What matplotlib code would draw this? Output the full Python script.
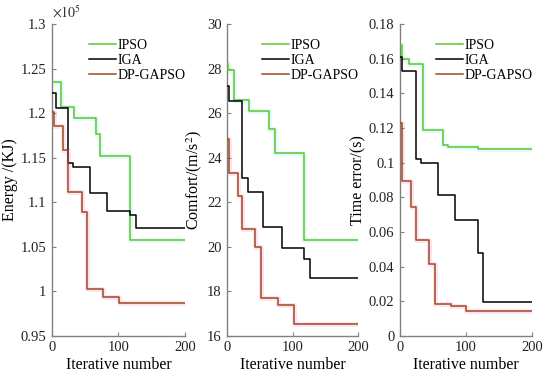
import matplotlib
matplotlib.use("Agg")
import matplotlib.pyplot as plt
from matplotlib.ticker import FuncFormatter, MultipleLocator

plt.rcParams['font.family'] = ['Liberation Serif', 'DejaVu Serif']
plt.rcParams['mathtext.fontset'] = 'stix'

series_names = ["IPSO", "IGA", "DP-GAPSO"]
colors = ["#62c52e", "#000000", "#a04820"]

# Energy (KJ)
energy_x = {
    "IPSO": [0, 14, 33, 66, 72, 117, 200],
    "IGA": [0, 6, 24, 31, 57, 83, 118, 126, 200],
    "DP-GAPSO": [0, 3, 16, 24, 45, 53, 77, 101, 200],
}
energy_y = {
    "IPSO": [123500, 120700, 119500, 117600, 115200, 105800, 105800],
    "IGA": [122300, 120600, 114400, 114000, 111000, 109000, 108600, 107100, 107100],
    "DP-GAPSO": [120100, 118600, 115900, 111100, 108900, 100300, 99400, 98700, 98700],
}

# Comfort (m/s^2)
comfort_x = {
    "IPSO": [0, 2, 11, 34, 64, 73, 118, 200],
    "IGA": [0, 3, 23, 32, 55, 84, 118, 127, 200],
    "DP-GAPSO": [0, 3, 17, 23, 43, 52, 78, 102, 200],
}
comfort_y = {
    "IPSO": [28.2, 27.95, 26.6, 26.1, 25.3, 24.2, 20.3, 20.3],
    "IGA": [27.2, 26.55, 23.1, 22.48, 20.9, 19.93, 19.43, 18.62, 18.62],
    "DP-GAPSO": [24.85, 23.3, 22.3, 20.8, 20.0, 17.7, 17.4, 16.55, 16.55],
}

# Time error (s)
time_x = {
    "IPSO": [0, 3, 14, 35, 65, 72, 118, 200],
    "IGA": [0, 3, 24, 32, 57, 83, 118, 126, 200],
    "DP-GAPSO": [0, 3, 16, 24, 44, 53, 78, 100, 200],
}
time_y = {
    "IPSO": [0.168, 0.160, 0.157, 0.119, 0.110, 0.109, 0.108, 0.108],
    "IGA": [0.161, 0.153, 0.102, 0.0995, 0.0814, 0.0667, 0.0477, 0.0195, 0.0195],
    "DP-GAPSO": [0.123, 0.0893, 0.0743, 0.0553, 0.0414, 0.0184, 0.0175, 0.0145, 0.0145],
}

x_label = "Iterative number"
y_labels = ["Energy /(KJ)", "Comfort/(m/s$^2$)", "Time error/(s)"]

fig = plt.figure(figsize=(5.5, 3.8), dpi=100)
positions = [
    [0.0945, 0.116, 0.2415, 0.821],
    [0.4127, 0.116, 0.2383, 0.821],
    [0.7273, 0.116, 0.2400, 0.821],
]
ylims = [(95000, 130000), (16, 30), (0, 0.18)]
ysteps = [5000, 2, 0.02]
halo = {"IPSO": "#e2fbfb", "IGA": None, "DP-GAPSO": "#fde3f1"}
datasets = [(energy_x, energy_y), (comfort_x, comfort_y), (time_x, time_y)]

for i, (pos, (dx, dy)) in enumerate(zip(positions, datasets)):
    ax = fig.add_axes(pos)
    for name, c in zip(series_names, colors):
        if halo[name]:
            ax.plot(dx[name], dy[name], drawstyle='steps-post', color=halo[name],
                    lw=3.5, zorder=1, solid_capstyle='butt')
        ax.plot(dx[name], dy[name], drawstyle='steps-post', color=c, lw=1.1,
                label=name, zorder=3)
    ax.set_xlim(0, 200)
    ax.set_ylim(*ylims[i])
    ax.xaxis.set_major_locator(MultipleLocator(100))
    ax.yaxis.set_major_locator(MultipleLocator(ysteps[i]))
    if i == 0:
        ax.yaxis.set_major_formatter(FuncFormatter(lambda v, p: "%g" % round(v / 1e5, 4)))
        ax.text(0.0, 1.01, r"$\times 10^5$", transform=ax.transAxes, fontsize=10,
                ha='left', va='bottom', color='#333333')
    else:
        ax.yaxis.set_major_formatter(FuncFormatter(lambda v, p: "%g" % round(v, 4)))
    for s in ['top', 'right']:
        ax.spines[s].set_visible(False)
    for s in ['left', 'bottom']:
        ax.spines[s].set_color('#808080')
        ax.spines[s].set_linewidth(1.0)
    ax.tick_params(direction='in', length=3, color='#808080', labelsize=10.5,
                   labelcolor='#222222', pad=4)
    ax.set_xlabel(x_label, fontsize=11.5, labelpad=2)
    ax.set_ylabel(y_labels[i], fontsize=11.5, labelpad=2)
    ax.legend(loc='upper right', frameon=False, fontsize=10, handlelength=1.9,
              handletextpad=0.15, labelspacing=0.15, borderaxespad=0.2,
              bbox_to_anchor=(1.07, 0.98))

fig.savefig("out.png", dpi=100)
